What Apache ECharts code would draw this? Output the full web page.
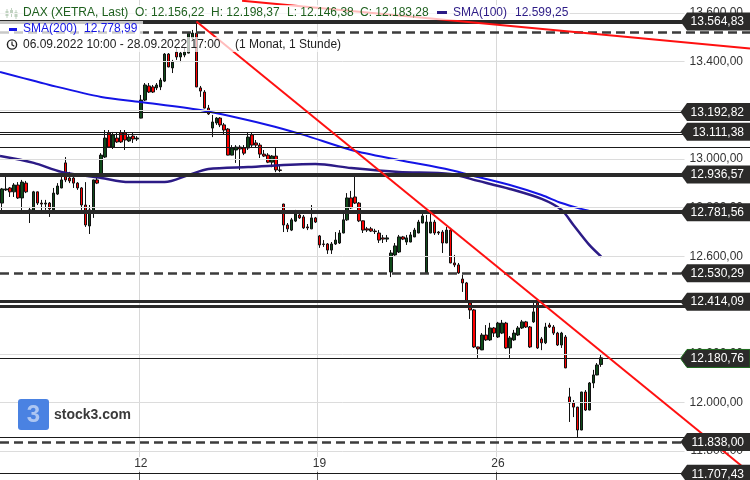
<!DOCTYPE html>
<html><head><meta charset="utf-8">
<script src="https://cdn.jsdelivr.net/npm/echarts@6/dist/echarts.min.js"></script>
<style>html,body{margin:0;padding:0;background:#fff}#c{width:750px;height:480px}</style>
</head><body><div id="c"></div>
<script>
// ---- data ----
const opens=[12819,12873,12881,12865,12893,12840,12901,12791,12786,12865,12819,12815,12819,12791,12856,12881,12984,12922,12922,12901,12881,12811,12725,12786,12914,12926,13008,13107,13049,13086,13107,13107,13074,13094,13082,
13168,13242,13300,13296,13292,13296,13320,13431,13374,13439,13419,13427,13435,13497,13517,13292,13275,13209,13127,13148,13168,13140,13123,13016,13037,13049,13045,13045,13099,13066,13057,13020,13016,12987,13012,12955,12815,12729,12708,12745,12770,12762,12721,12713,12758,
12684,12651,12651,12626,12651,12655,12696,12750,12840,12844,12819,12746,12713,12713,12704,12696,12676,12671,12536,12606,12618,12680,12659,12659,12680,12696,12737,12532,12696,12741,12700,12700,12655,12708,12573,12565,12507,12491,12409,12380,12228,12216,12277,12257,12306,
12269,12285,12326,12224,12257,12277,12306,12331,12310,12331,12409,12261,12245,12318,12310,12285,12236,12269,12023,11998,11981,11887,12043,11969,12080,12113,12156.22];
const closes=[12877,12877,12865,12893,12840,12905,12865,12786,12865,12819,12815,12819,12795,12860,12889,12914,12914,12910,12901,12881,12811,12729,12791,12914,12901,13016,13086,13049,13099,13070,13070,13078,13090,13082,13086,
13242,13304,13275,13275,13304,13324,13431,13378,13398,13419,13435,13439,13517,13517,13296,13279,13209,13185,13152,13168,13140,13119,13016,13045,13049,13041,13024,13090,13057,13057,13020,13012,12987,13012,12955,12953,12729,12713,12750,12774,12758,12717,12717,12758,12741,
12647,12649,12626,12651,12667,12696,12750,12840,12799,12819,12746,12708,12708,12704,12702,12667,12671,12676,12614,12643,12680,12671,12676,12688,12708,12741,12766,12741,12741,12696,12696,12655,12708,12573,12565,12532,12491,12413,12380,12228,12220,12277,12257,12306,12285,
12326,12326,12224,12265,12285,12306,12331,12310,12228,12372,12224,12245,12310,12310,12285,12236,12285,12142,11998,11981,11887,12043,11969,12080,12113,12154,12183.28];
const lows=[12782,12869,12844,12844,12836,12782,12860,12737,12782,12811,12782,12791,12762,12782,12852,12880,12905,12901,12881,12873,12791,12721,12692,12758,12897,12922,13004,13045,13041,13066,13066,13037,13070,13066,13074,
13167,13238,13271,13271,13283,13283,13316,13377,13353,13407,13398,13418,13434,13489,13295,13255,13208,13181,13090,13140,13131,13099,13015,13015,12984,12955,13016,13037,13049,13049,13004,13008,12983,12966,12946,12946,12700,12700,12704,12741,12754,12713,12708,12712,12737,
12635,12639,12610,12610,12647,12651,12695,12746,12795,12815,12741,12696,12700,12700,12692,12655,12655,12659,12515,12602,12614,12667,12647,12658,12679,12695,12736,12530,12695,12688,12688,12614,12654,12572,12556,12528,12454,12412,12343,12224,12183,12215,12253,12253,12269,
12265,12281,12220,12183,12253,12273,12302,12306,12224,12327,12220,12215,12240,12306,12277,12232,12224,12141,11920,11940,11858,11886,11965,11968,12059,12112,12146.38];
const highs=[12881,12926,12885,12901,12905,12914,12910,12803,12869,12866,12832,12832,12823,12881,12901,12942,13008,12947,12926,12905,12885,12905,12811,12915,12942,13024,13119,13119,13111,13107,13119,13119,13103,13107,13094,
13263,13312,13312,13304,13312,13333,13435,13435,13407,13456,13440,13456,13522,13530,13564.83,13300,13283,13222,13181,13172,13172,13148,13127,13057,13057,13057,13057,13107,13107,13078,13066,13037,13024,13016,13045,12975,12816,12737,12758,12791,12782,12770,12733,12811,12762,
12688,12667,12655,12659,12700,12708,12782,12860,12869,12926,12823,12747,12721,12721,12713,12708,12688,12688,12626,12655,12688,12684,12688,12700,12717,12750,12778,12770,12778,12750,12704,12708,12721,12717,12606,12573,12524,12495,12413,12384,12229,12285,12318,12327,12310,
12331,12339,12331,12273,12298,12314,12339,12335,12314,12412,12410,12269,12327,12327,12318,12290,12290,12277,12060,12010,11982,12044,12051,12084,12134,12162,12198.37];

const dayLabels=['12','19','26'];
const dayLabelIdx=[35,80,125];
const yTicks=[11800,12000,12200,12400,12600,12800,13000,13200,13400,13600];
const yMin=11681.6, yMax=13653;

const sma100Idx=[-0.5,8,15,25,32,41,47,52,62,79,88,100,113,120,128,136,141,144,148,151];
const sma100=[13012,12984,12947,12922,12905,12905,12934,12959,12967,12979,12963,12947,12938,12910,12877,12836,12791,12729,12647,12599.25];
const sma200Idx=[-0.5,12,25,35,50,67,76,88,100,113,120,128,136,141,146,150];
const sma200=[13357,13304,13255,13234,13201,13140,13099,13037,12996,12955,12926,12893,12852,12819,12795,12778.99];

const thickLevels=[13564.83,12936.57,12781.56];
const thinLevels=[13192.82,13111.38,13100,13049,12180.76,11858,11707.43];
const dashedLevels=[13520,12530.29,11838.00];
const doubleLevels=[12414.09,12395];
const taggedLevels=[13564.83,13192.82,13111.38,12936.57,12781.56,12530.29,12414.09,12180.76,11838.00,11707.43];
const lastPrice=12180.76;

const trend1=[[49,13564.83],[188.5,11711]];
const trend2=[[60.5,13650],[188.5,13454]];

// ---- helpers ----
const N=189;
const fmt=v=>{const p=Math.abs(v).toFixed(2).split('.');return p[0].replace(/\B(?=(\d{3})+(?!\d))/g,'.')+','+p[1];};
const cats=[];for(let i=0;i<N;i++){const k=dayLabelIdx.indexOf(i);cats.push(k>=0?dayLabels[k]:'');}
const showDay=(i)=>dayLabelIdx.indexOf(i)>=0;
const candles=opens.map((o,i)=>[o,closes[i],lows[i],highs[i]]);

const ml=[];
thickLevels.forEach(v=>ml.push({yAxis:v,lineStyle:{color:'#2a2a2a',width:4,type:'solid'}}));
thinLevels.forEach(v=>ml.push({yAxis:v,lineStyle:{color:'#1a1a1a',width:1,type:'solid'}}));
dashedLevels.forEach(v=>ml.push({yAxis:v,lineStyle:{color:'#3c3c3c',width:2.5,type:[9,5]}}));
doubleLevels.forEach(v=>ml.push({yAxis:v,lineStyle:{color:'#2a2a2a',width:3,type:'solid'}}));
const gridML=yTicks.map(v=>[{coord:[-0.5,v]},{coord:[172,v]}]);

const FONT='"Liberation Sans", Arial, sans-serif';
const chart=echarts.init(document.getElementById('c'),null,{renderer:'canvas'});
chart.setOption({
  animation:false,
  backgroundColor:'#fff',
  grid:{left:0,right:0,top:0,bottom:0,containLabel:false},
  xAxis:[{
    type:'category',data:cats,boundaryGap:true,
    axisLine:{show:false},
    axisTick:{show:true,inside:true,length:8,interval:(i)=>showDay(i),lineStyle:{color:'#555'}},
    axisLabel:{show:true,inside:true,margin:10,interval:(i)=>showDay(i),color:'#333',fontSize:12,fontFamily:FONT,backgroundColor:'#fff',padding:[1,2,0,2]},
    splitLine:{show:true,interval:(i)=>showDay(i),lineStyle:{color:'#d8d8d8',width:1}}
  },{
    type:'value',min:-0.5,max:N-0.5,show:false
  }],
  yAxis:{
    type:'value',position:'right',min:yMin,max:yMax,
    axisLine:{show:false},
    axisTick:{show:true,inside:true,length:5,customValues:yTicks,lineStyle:{color:'#333'}},
    axisLabel:{inside:true,margin:7,customValues:yTicks,color:'#333',fontSize:12,fontFamily:FONT,formatter:v=>fmt(v)},
    splitLine:{show:false}
  },
  series:[
    {type:'line',name:'grid',xAxisIndex:1,data:[],symbol:'none',z:1,
      markLine:{silent:true,symbol:['none','none'],label:{show:false},lineStyle:{color:'#dcdcdc',width:1,type:'solid'},data:gridML}},
    {type:'candlestick',name:'DAX',xAxisIndex:0,data:candles,barWidth:3,
      itemStyle:{color:'#0f4a1a',color0:'#ff0000',borderColor:'#111',borderColor0:'#111',borderWidth:1},
      markLine:{silent:true,symbol:['none','none'],label:{show:false},data:ml},
      z:3},
    {type:'line',name:'SMA(100)',xAxisIndex:1,data:sma100Idx.map((x,i)=>[x,sma100[i]]),
      symbol:'none',smooth:0.3,lineStyle:{color:'#2c1b86',width:2.5},z:4},
    {type:'line',name:'SMA(200)',xAxisIndex:1,data:sma200Idx.map((x,i)=>[x,sma200[i]]),
      symbol:'none',smooth:0.3,lineStyle:{color:'#1414e6',width:2},z:4},
    {type:'line',name:'trend',xAxisIndex:1,data:[],symbol:'none',z:5,
      markLine:{silent:true,symbol:['none','none'],label:{show:false},
        lineStyle:{color:'#ff1010',width:2,type:'solid'},
        data:[[{coord:trend1[0]},{coord:trend1[1]}],[{coord:trend2[0]},{coord:trend2[1]}]]}},
    {type:'custom',name:'tags',xAxisIndex:1,data:taggedLevels.map(v=>[180,v]),z:20,clip:false,silent:true,
      renderItem:(params,api)=>{
        const v=api.value(1);const y=api.coord([0,v])[1];const W=api.getWidth();
        const h=9,x0=W-69.5,x1=W-63;
        const isLast=Math.abs(v-lastPrice)<0.001;
        return {type:'group',children:[
          {type:'polygon',shape:{points:[[x0,y],[x1,y-h],[W,y-h],[W,y+h],[x1,y+h]]},style:{fill:'#2b2a29',stroke:isLast?'#1d6b1d':null,lineWidth:isLast?1:0}},
          {type:'text',style:{text:fmt(v),x:W-6,y:y+0.5,align:'right',verticalAlign:'middle',fill:'#fff',font:'12px '+FONT}}
        ]};
      }}
  ],
  graphic:[
    {type:'rect',z:100,shape:{x:0,y:5,width:570,height:15},style:{fill:'rgba(255,255,255,0.72)'}},
    {type:'rect',z:100,shape:{x:0,y:21,width:143,height:16},style:{fill:'rgba(255,255,255,0.72)'}},
    {type:'rect',z:100,shape:{x:0,y:37,width:345,height:15},style:{fill:'rgba(255,255,255,0.72)'}},
    {type:'group',z:101,children:[
      {type:'line',shape:{x1:7,y1:9,x2:7,y2:18},style:{stroke:'#1d5f1d',lineWidth:1}},
      {type:'rect',shape:{x:5.5,y:11,width:3,height:5},style:{fill:'#1d5f1d'}},
      {type:'line',shape:{x1:11.5,y1:8,x2:11.5,y2:17},style:{stroke:'#1d5f1d',lineWidth:1}},
      {type:'rect',shape:{x:10,y:10,width:3,height:4},style:{fill:'#1d5f1d'}},
      {type:'line',shape:{x1:16,y1:10,x2:16,y2:19},style:{stroke:'#1d5f1d',lineWidth:1}},
      {type:'rect',shape:{x:14.5,y:12,width:3,height:5},style:{fill:'#1d5f1d'}}
    ]},
    {type:'text',z:101,style:{text:'DAX (XETRA, Last)',x:23,y:13,verticalAlign:'middle',fill:'#1d5f1d',font:'12px '+FONT}},
    {type:'text',z:101,style:{text:'O: 12.156,22',x:135,y:13,verticalAlign:'middle',fill:'#1d5f1d',font:'12px '+FONT}},
    {type:'text',z:101,style:{text:'H: 12.198,37',x:211,y:13,verticalAlign:'middle',fill:'#1d5f1d',font:'12px '+FONT}},
    {type:'text',z:101,style:{text:'L: 12.146,38',x:287,y:13,verticalAlign:'middle',fill:'#1d5f1d',font:'12px '+FONT}},
    {type:'text',z:101,style:{text:'C: 12.183,28',x:360,y:13,verticalAlign:'middle',fill:'#1d5f1d',font:'12px '+FONT}},
    {type:'rect',z:101,shape:{x:437,y:11,width:10,height:3},style:{fill:'#2c1b86'}},
    {type:'text',z:101,style:{text:'SMA(100)',x:453,y:13,verticalAlign:'middle',fill:'#2c1b86',font:'12px '+FONT}},
    {type:'text',z:101,style:{text:'12.599,25',x:515,y:13,verticalAlign:'middle',fill:'#2c1b86',font:'12px '+FONT}},
    {type:'rect',z:101,shape:{x:9,y:28,width:8,height:3},style:{fill:'#1414e6'}},
    {type:'text',z:101,style:{text:'SMA(200)',x:23,y:29,verticalAlign:'middle',fill:'#1414e6',font:'12px '+FONT}},
    {type:'text',z:101,style:{text:'12.778,99',x:84,y:29,verticalAlign:'middle',fill:'#1414e6',font:'12px '+FONT}},
    {type:'circle',z:101,shape:{cx:12,cy:44.5,r:4.6},style:{fill:'none',stroke:'#222',lineWidth:1.4}},
    {type:'polyline',z:101,shape:{points:[[12,41.5],[12,44.8],[14.3,46.2]]},style:{fill:'none',stroke:'#222',lineWidth:1.2}},
    {type:'text',z:101,style:{text:'06.09.2022 10:00 - 28.09.2022 17:00',x:23,y:44.5,verticalAlign:'middle',fill:'#222',font:'12px '+FONT}},
    {type:'text',z:101,style:{text:'(1 Monat, 1 Stunde)',x:235,y:44.5,verticalAlign:'middle',fill:'#222',font:'12px '+FONT}},
    {type:'rect',z:101,shape:{x:18,y:399,width:31,height:31,r:3},style:{fill:'#4a82e2'}},
    {type:'text',z:102,style:{text:'3',x:33.5,y:415,align:'center',verticalAlign:'middle',fill:'rgba(255,255,255,0.55)',font:'bold 24px '+FONT}},
    {type:'text',z:101,style:{text:'stock3.com',x:54,y:415,verticalAlign:'middle',fill:'#3a3a3a',font:'bold 14px '+FONT}}
  ]
});
</script>
</body></html>
